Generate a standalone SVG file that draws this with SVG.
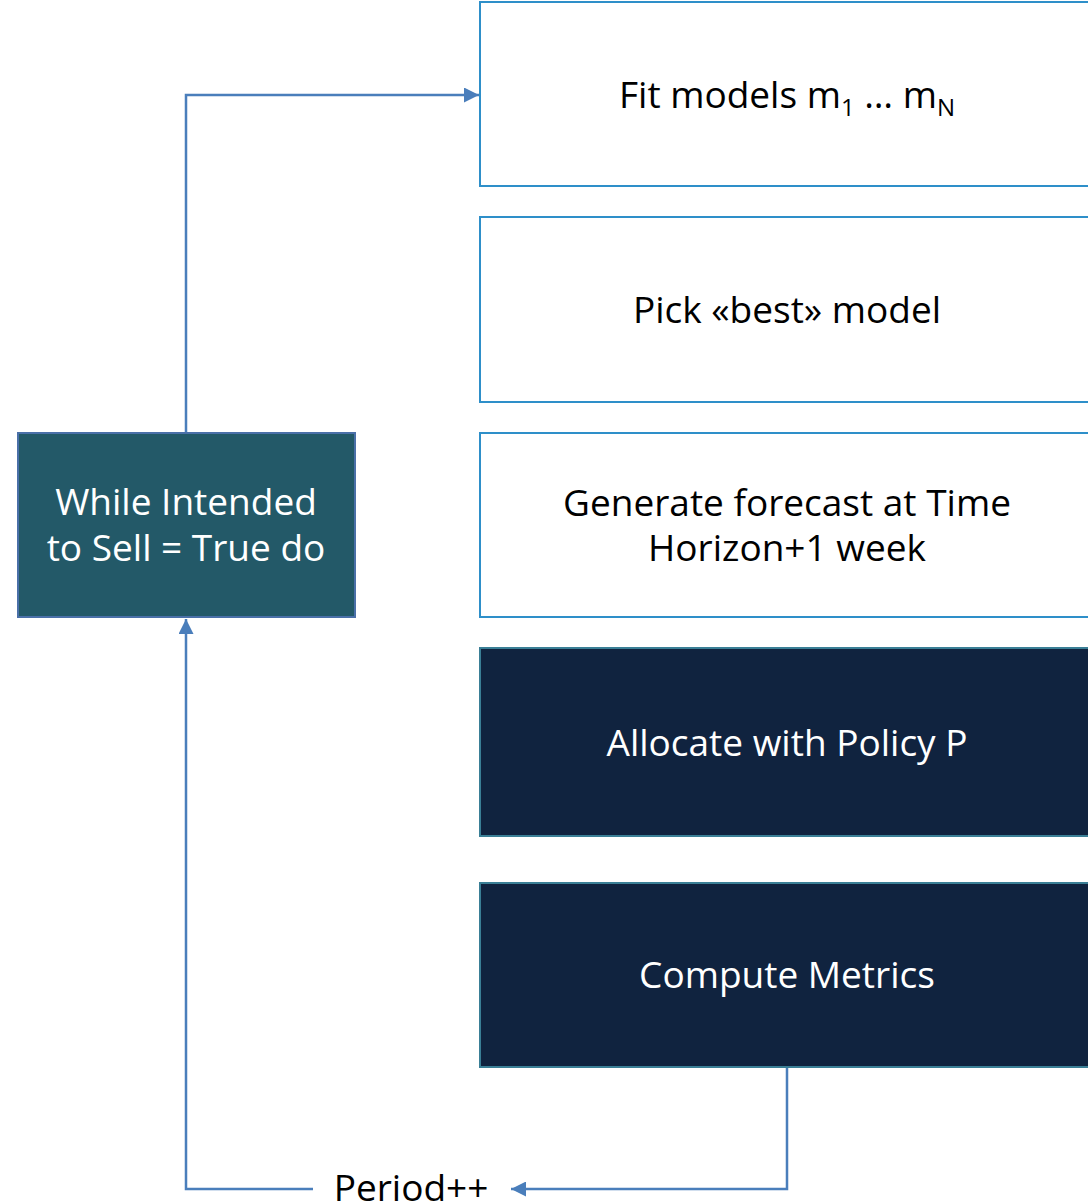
<svg xmlns="http://www.w3.org/2000/svg" width="1088" height="1203" viewBox="0 0 1088 1203">
  <defs>
    <style>
      .step { fill: #ffffff; stroke: #2e8fc9; stroke-width: 2; }
      .dark { fill: #10233f; stroke: #3a7f96; stroke-width: 2; }
      .loop { fill: #235968; stroke: #4a70a8; stroke-width: 2; }
      .lbl { font-family: "Open Sans", "Noto Sans", sans-serif; font-size: 37px; text-anchor: middle; }
      .ink { fill: #000000; }
      .light { fill: #ffffff; }
      .wire { fill: none; stroke: #4a7ebb; stroke-width: 2.5; }
    </style>
    <marker id="head" viewBox="0 0 10 10" refX="10" refY="5" markerWidth="6" markerHeight="6" markerUnits="strokeWidth" orient="auto">
      <path d="M0,0 L10,5 L0,10 z" fill="#4a7ebb"/>
    </marker>
  </defs>

  <rect width="1088" height="1203" fill="#ffffff"/>

  <g id="connectors">
    <path class="wire" d="M186,433 V95 H479" marker-end="url(#head)"/>
    <path class="wire" d="M787,1067 V1189 H511" marker-end="url(#head)"/>
    <path class="wire" d="M313,1189 H186 V619" marker-end="url(#head)"/>
  </g>

  <g id="while-loop">
    <rect class="loop" x="18" y="433" width="337" height="184"/>
    <text class="lbl light" x="186" y="515">While Intended<tspan x="186" dy="46">to Sell = True do</tspan></text>
  </g>

  <g id="fit-models">
    <rect class="step" x="480" y="2" width="620" height="184"/>
    <text class="lbl ink" x="787" y="108">Fit models m<tspan font-size="24" dy="8">1</tspan><tspan dy="-8"> … m</tspan><tspan font-size="24" dy="8">N</tspan></text>
  </g>

  <g id="pick-best">
    <rect class="step" x="480" y="217" width="620" height="185"/>
    <text class="lbl ink" x="787" y="323">Pick «best» model</text>
  </g>

  <g id="forecast">
    <rect class="step" x="480" y="433" width="620" height="184"/>
    <text class="lbl ink" x="787" y="516">Generate forecast at Time<tspan x="787" dy="45">Horizon+1 week</tspan></text>
  </g>

  <g id="allocate">
    <rect class="dark" x="480" y="648" width="620" height="188"/>
    <text class="lbl light" x="787" y="756">Allocate with Policy P</text>
  </g>

  <g id="metrics">
    <rect class="dark" x="480" y="883" width="620" height="184"/>
    <text class="lbl light" x="787" y="988">Compute Metrics</text>
  </g>

  <g id="period">
    <text class="lbl ink" x="411" y="1201">Period++</text>
  </g>
</svg>
